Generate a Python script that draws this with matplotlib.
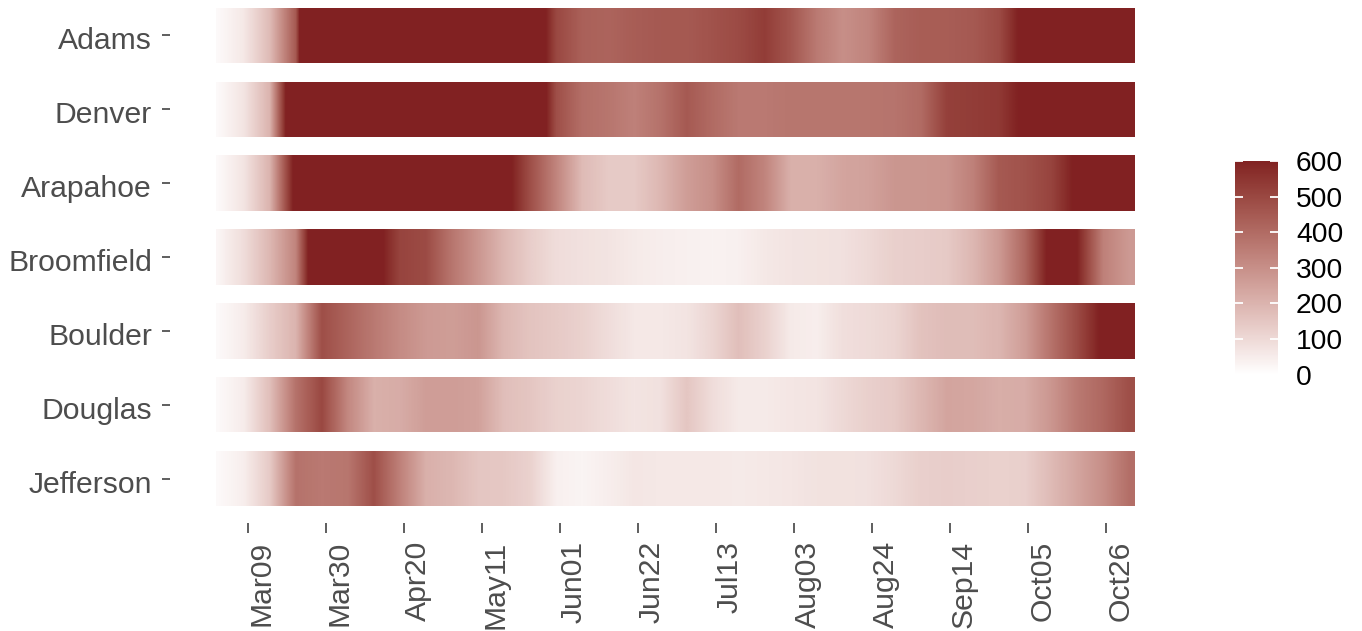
import numpy as np
import matplotlib
matplotlib.use('Agg')
import matplotlib.pyplot as plt
import matplotlib.dates as mdates
import matplotlib.transforms as mtransforms
from matplotlib.colors import ListedColormap, Normalize, to_rgb
from matplotlib.cm import ScalarMappable
from matplotlib.patches import Rectangle

plt.rcParams['font.family'] = ['Liberation Sans', 'DejaVu Sans']

# counties, top to bottom
counties = ['Adams', 'Denver', 'Arapahoe', 'Broomfield', 'Boulder', 'Douglas', 'Jefferson']

# weekly readings, Mar 1 .. Nov 1 2020 (colour scale saturates at 600)
adams = [15, 60, 180, 450, 1500, 1500, 1500, 1500, 1400, 1200, 1000, 900, 750, 500,
         430, 420, 440, 450, 450, 470, 490, 530, 460, 360, 300, 330, 420, 440, 440,
         450, 490, 640, 800, 900, 1000, 1100]
denver = [15, 70, 200, 850, 1500, 1500, 1500, 1500, 1400, 1200, 1000, 900, 800, 480,
          390, 370, 340, 380, 450, 400, 360, 360, 370, 370, 370, 370, 375, 400, 520,
          530, 540, 620, 800, 900, 1000, 1100]
arapahoe = [15, 70, 200, 650, 1200, 1200, 1200, 1200, 1100, 1000, 900, 650, 480, 330,
            180, 140, 140, 190, 260, 300, 400, 330, 210, 210, 240, 250, 280, 280, 285,
            340, 450, 470, 510, 620, 900, 1000]
broomfield = [25, 90, 190, 330, 900, 900, 650, 510, 490, 370, 280, 190, 130, 90,
              80, 70, 55, 45, 40, 35, 40, 60, 70, 75, 80, 100, 125, 130, 140,
              190, 270, 410, 640, 600, 340, 270]
boulder = [15, 50, 130, 200, 480, 420, 360, 310, 270, 260, 280, 190, 155, 140,
           120, 90, 60, 60, 70, 110, 170, 120, 55, 45, 85, 95, 110, 160, 175,
           175, 195, 260, 380, 490, 620, 750]
douglas = [15, 50, 170, 380, 500, 320, 210, 220, 260, 260, 250, 170, 150, 120,
           110, 90, 70, 80, 150, 90, 55, 55, 65, 70, 100, 125, 140, 190, 240,
           235, 215, 220, 280, 360, 410, 480]
jefferson = [15, 45, 140, 380, 360, 370, 480, 340, 210, 190, 150, 145, 120, 40,
             30, 45, 65, 60, 60, 60, 55, 60, 65, 75, 75, 80, 100, 125, 130,
             125, 120, 125, 180, 240, 300, 390]
series = [adams, denver, arapahoe, broomfield, boulder, douglas, jefferson]

first_day = np.datetime64('2020-03-01')
last_day = np.datetime64('2020-11-02')
sample_days = np.arange(first_day, last_day, 7)
tick_days = np.arange(np.datetime64('2020-03-09'), np.datetime64('2020-11-01'), 21)
legend_ticks = [0, 100, 200, 300, 400, 500, 600]


# white -> dark red, blended in Lab like ggplot's gradient
M = np.array([[0.4124564, 0.3575761, 0.1804375],
              [0.2126729, 0.7151522, 0.0721750],
              [0.0193339, 0.1191920, 0.9503041]])
WHITE = np.array([0.95047, 1.0, 1.08883])


def to_lab(c):
    c = np.asarray(to_rgb(c))
    lin = np.where(c <= 0.04045, c / 12.92, ((c + 0.055) / 1.055) ** 2.4)
    xyz = M @ lin / WHITE
    f = np.where(xyz > (6 / 29) ** 3, np.cbrt(xyz), xyz / (3 * (6 / 29) ** 2) + 4 / 29)
    return np.array([116 * f[1] - 16, 500 * (f[0] - f[1]), 200 * (f[1] - f[2])])


def from_lab(lab):
    fy = (lab[:, 0] + 16) / 116
    f = np.stack([fy + lab[:, 1] / 500, fy, fy - lab[:, 2] / 200], axis=1)
    xyz = np.where(f > 6 / 29, f ** 3, 3 * (6 / 29) ** 2 * (f - 4 / 29)) * WHITE
    lin = np.clip(xyz @ np.linalg.inv(M).T, 0, 1)
    rgb = np.where(lin <= 0.0031308, 12.92 * lin, 1.055 * lin ** (1 / 2.4) - 0.055)
    return np.clip(rgb, 0, 1)


lo, hi = to_lab('#ffffff'), to_lab('#812222')
t = np.linspace(0, 1, 256)[:, None]
cmap = ListedColormap(from_lab(lo + t * (hi - lo)))
norm = Normalize(0, 600)

fig = plt.figure(figsize=(13.62, 6.31), dpi=100)
ax = fig.add_axes([170 / 1362, 1 - 523 / 631, 1010 / 1362, 523 / 631])

xs = mdates.date2num(sample_days)
d0 = mdates.date2num(first_day) - 0.5
d1 = mdates.date2num(last_day) + 0.5
h = 0.75
for i, vals in enumerate(series):
    v = np.pad(np.asarray(vals, float), 1, mode='edge')
    im = ax.imshow(v[None, :], extent=[xs[0] - 10.5, xs[-1] + 10.5, i + h / 2, i - h / 2],
                   aspect='auto', cmap=cmap, norm=norm,
                   interpolation='bilinear', interpolation_stage='data')
    im.set_clip_path(Rectangle((d0, i - h / 2), d1 - d0, h, transform=ax.transData))

pad = 0.05 * (d1 - d0)
ax.set_xlim(d0 - pad, d1 + pad)
ax.set_ylim(6.60, -0.478)

ax.set_yticks(range(len(counties)))
ax.set_yticklabels(counties)
ax.set_xticks(mdates.date2num(tick_days))
ax.set_xticklabels([d.astype(object).strftime('%b%d') for d in tick_days],
                   rotation=90, ha='left', va='top')
ax.tick_params(axis='y', length=6, width=1.1, color='#333333', pad=7,
               labelsize=21.7, labelcolor='#4D4D4D')
ax.tick_params(axis='x', length=7, width=1.1, color='#333333', pad=6,
               labelsize=21.7, labelcolor='#4D4D4D')
shift = mtransforms.ScaledTranslation(0, -3 / 100, fig.dpi_scale_trans)
for lab in ax.get_yticklabels():
    lab.set_transform(lab.get_transform() + shift)
for s in ax.spines.values():
    s.set_visible(False)

cax = fig.add_axes([1235 / 1362, 1 - 374.6 / 631, 43 / 1362, 213.6 / 631])
cb = fig.colorbar(ScalarMappable(norm=norm, cmap=cmap), cax=cax)
cb.outline.set_visible(False)
cb.set_ticks(legend_ticks)
cax.tick_params(direction='in', length=6, width=1.3, color='white', left=True, right=True,
                labelsize=20.3, labelcolor='black', pad=13)

fig.savefig('out.png', dpi=100, facecolor='white')
